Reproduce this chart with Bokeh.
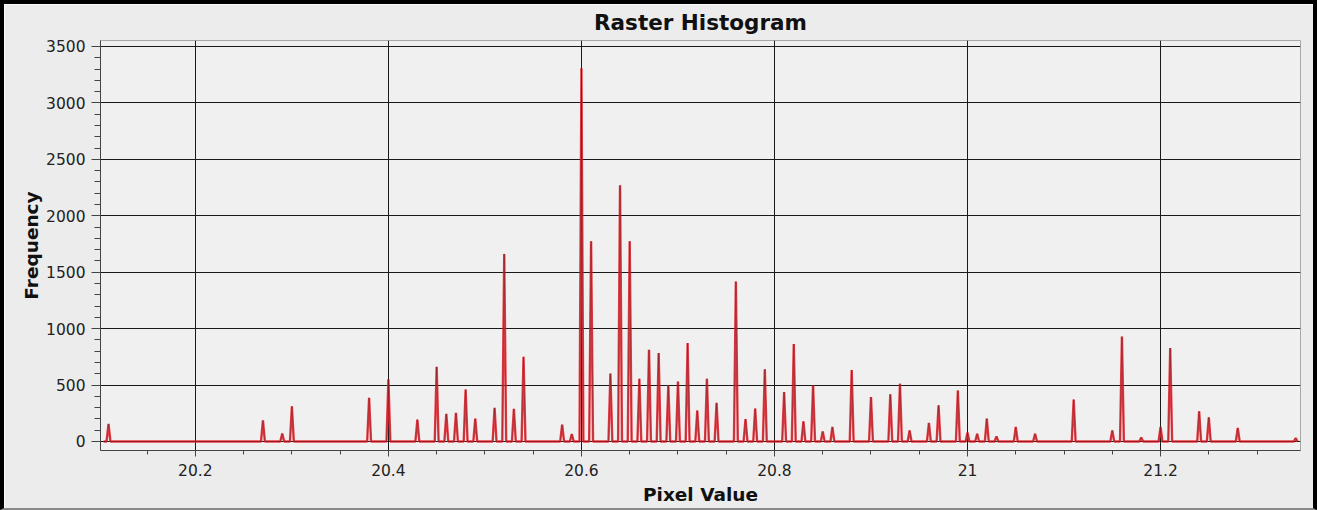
from bokeh.plotting import figure
from bokeh.models import FixedTicker, Range1d
from bokeh.embed import file_html
from bokeh.resources import INLINE

# ---- data ----
spike_x = [20.11, 20.27, 20.29, 20.30, 20.38, 20.40, 20.43, 20.45, 20.46, 20.47,
           20.48, 20.49, 20.51, 20.52, 20.53, 20.54, 20.58, 20.59, 20.60, 20.61,
           20.63, 20.64, 20.65, 20.66, 20.67, 20.68, 20.69, 20.70, 20.71, 20.72,
           20.73, 20.74, 20.76, 20.77, 20.78, 20.79, 20.81, 20.82, 20.83, 20.84,
           20.85, 20.86, 20.88, 20.90, 20.92, 20.93, 20.94, 20.96, 20.97, 20.99,
           21.00, 21.01, 21.02, 21.03, 21.05, 21.07, 21.11, 21.15, 21.16, 21.18,
           21.20, 21.21, 21.24, 21.25, 21.28, 21.34]
spike_freq = [155, 187, 71, 312, 387, 551, 194, 661, 244, 253,
              461, 202, 298, 1662, 289, 750, 149, 65, 3307, 1775,
              601, 2270, 1775, 556, 812, 783, 497, 530, 872, 274,
              556, 342, 1417, 199, 292, 640, 437, 863, 179, 497,
              89, 128, 634, 393, 417, 512, 98, 164, 321, 452,
              80, 69, 202, 45, 128, 69, 372, 98, 929, 36,
              128, 828, 268, 214, 119, 30]
hist_min, hist_max = 20.105, 21.342

x_tick_values = [20.2, 20.4, 20.6, 20.8, 21.0, 21.2]
x_tick_labels = ["20.2", "20.4", "20.6", "20.8", "21", "21.2"]
y_tick_values = [0, 500, 1000, 1500, 2000, 2500, 3000, 3500]
title_text = "Raster Histogram"

# ---- build the curve: narrow peaks on a zero baseline ----
hw = 0.002
xs, ys = [hist_min], [0]
for xv, fv in zip(spike_x, spike_freq):
    xs += [xv - hw, xv, xv + hw]
    ys += [0, fv, 0]
xs.append(hist_max)
ys.append(0)

FONT = "DejaVu Sans"

p = figure(width=1317, height=510, output_backend="svg", toolbar_location=None,
           x_range=Range1d(20.1017, 21.345), y_range=Range1d(-80, 3553),
           min_border_left=96, min_border_right=21, min_border_top=36, min_border_bottom=64,
           background_fill_color="#f0f0f0", border_fill_color="#ececec",
           outline_line_color="#a8a8a8", outline_line_width=1)
p.styles = {"border": "4px solid #000000", "border-bottom": "2px solid #8a8a8a"}

p.title.text = title_text
p.title.align = "center"
p.title.vertical_align = "top"
p.title.text_font = FONT
p.title.text_font_size = "21.5px"
p.title.text_font_style = "bold"
p.title.text_color = "#111111"
p.title.standoff = 8

# curve
p.line(xs, ys, line_color="#e3202a", line_width=2.4, line_alpha=0.85)
p.line(xs, ys, line_color="#5a1010", line_width=0.8, line_alpha=0.45)

# axes
xa = p.xaxis[0]
xa.ticker = FixedTicker(ticks=x_tick_values,
                        minor_ticks=[round(20.1 + 0.05 * i, 2) for i in range(26)])
xa.major_label_overrides = dict(zip(x_tick_values, x_tick_labels))
xa.axis_label = "Pixel Value"

ya = p.yaxis[0]
ya.ticker = FixedTicker(ticks=y_tick_values, minor_ticks=list(range(0, 3600, 100)))
ya.axis_label = "Frequency"

for ax in (xa, ya):
    ax.axis_label_text_font = FONT
    ax.axis_label_text_font_size = "18.5px"
    ax.axis_label_text_font_style = "bold"
    ax.axis_label_text_color = "#111111"
    ax.major_label_text_font = FONT
    ax.major_label_text_font_size = "15.5px"
    ax.major_label_text_color = "#222222"
    ax.axis_line_color = "#444444"
    ax.major_tick_line_color = "#444444"
    ax.minor_tick_line_color = "#444444"
    ax.major_tick_in = 0
    ax.minor_tick_in = 0

xa.major_tick_out = 6
xa.minor_tick_out = 4
xa.major_label_standoff = 7
xa.axis_label_standoff = 5
ya.major_tick_out = 9
ya.minor_tick_out = 6
ya.major_label_standoff = 6
ya.axis_label_standoff = 1

p.xgrid.grid_line_color = "#1a1a1a"
p.ygrid.grid_line_color = "#1a1a1a"
p.xgrid.grid_line_width = 1
p.ygrid.grid_line_width = 1

open("out.html", "w").write(file_html(p, INLINE))
